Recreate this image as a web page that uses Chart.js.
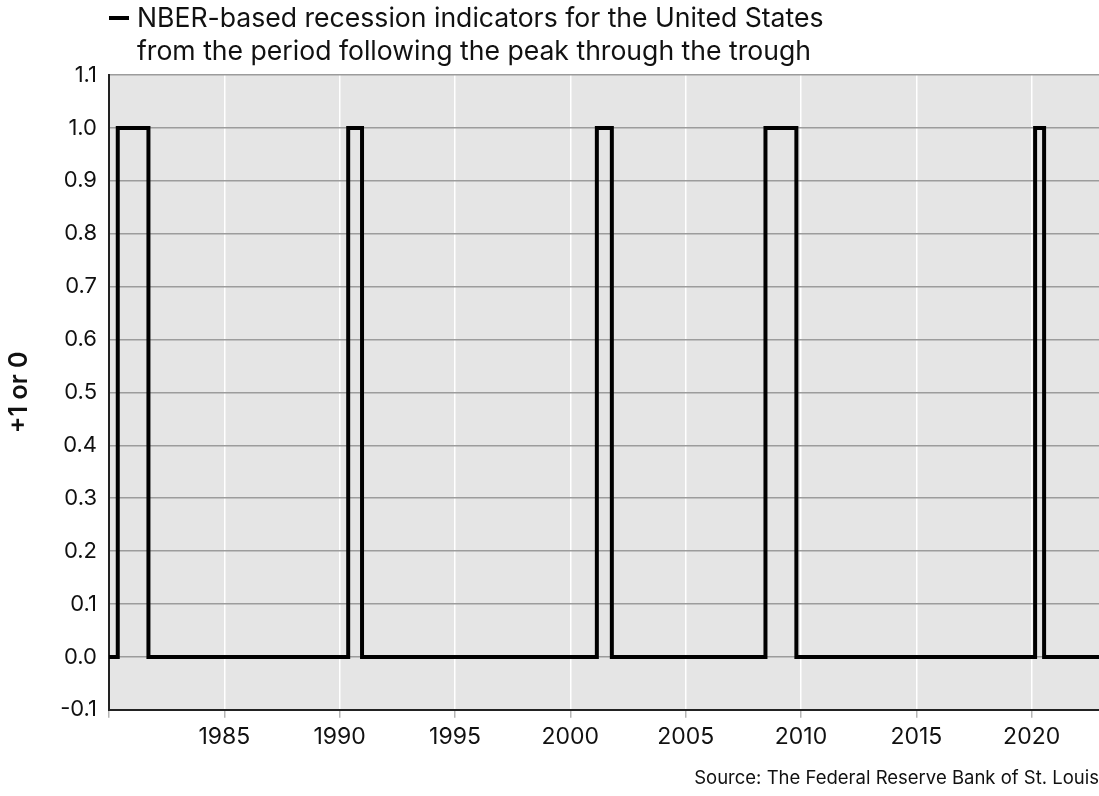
<!DOCTYPE html>
<html>
<head>
<meta charset="utf-8">
<script src="https://cdn.jsdelivr.net/npm/chart.js@4"></script>
<style>
  html, body { margin: 0; padding: 0; background: #fff; }
  #wrap { width: 1099px; height: 796px; position: relative; }
</style>
</head>
<body>
<div id="wrap"><canvas id="chart"></canvas></div>
<script>
// recession spans (decimal years)
const recessionStart = [1980.38, 1990.37, 2001.15, 2008.46, 2020.15];
const recessionEnd   = [1981.71, 1990.97, 2001.80, 2009.80, 2020.54];
const xRange = [1980, 2022.92];
const xTickValues = [1980, 1985, 1990, 1995, 2000, 2005, 2010, 2015, 2020];
const yTickValues = [-0.1, 0, 0.1, 0.2, 0.3, 0.4, 0.5, 0.6, 0.7, 0.8, 0.9, 1.0, 1.1];
const legendLines = [
  'NBER-based recession indicators for the United States',
  'from the period following the peak through the trough',
];
const sourceText = 'Source: The Federal Reserve Bank of St. Louis';

const FONT = 'Inter, "Noto Sans", sans-serif';

// step series: 0 -> 1 at start, 1 -> 0 at end
const points = [{ x: xRange[0], y: 0 }];
recessionStart.forEach((s, i) => {
  const e = recessionEnd[i];
  points.push({ x: s, y: 0 }, { x: s, y: 1 }, { x: e, y: 1 }, { x: e, y: 0 });
});
points.push({ x: xRange[1], y: 0 });

const areaBg = {
  id: 'areaBg',
  beforeDraw(c) {
    const { ctx, chartArea: a } = c;
    ctx.save();
    ctx.fillStyle = '#e5e5e5';
    ctx.fillRect(a.left, a.top, a.right - a.left, a.bottom - a.top);
    ctx.restore();
  },
};

const topLegend = {
  id: 'topLegend',
  afterDraw(c) {
    const ctx = c.ctx;
    ctx.save();
    ctx.strokeStyle = '#000';
    ctx.lineWidth = 4;
    ctx.beginPath();
    ctx.moveTo(109, 18);
    ctx.lineTo(129, 18);
    ctx.stroke();
    ctx.fillStyle = '#111';
    ctx.font = '400 26.6px ' + FONT;
    ctx.textBaseline = 'alphabetic';
    legendLines.forEach((t, i) => ctx.fillText(t, 137, 27 + i * 33));
    ctx.restore();
  },
};

new Chart(document.getElementById('chart').getContext('2d'), {
  type: 'line',
  data: {
    datasets: [{
      label: legendLines.join(' '),
      data: points,
      borderColor: '#000',
      borderWidth: 4,
      borderJoinStyle: 'miter',
      pointRadius: 0,
      tension: 0,
      fill: false,
    }],
  },
  options: {
    responsive: true,
    maintainAspectRatio: false,
    animation: false,
    layout: { padding: { top: 75, right: 0, left: 0, bottom: 0 } },
    plugins: {
      legend: { display: false },
      tooltip: { enabled: false },
      subtitle: {
        display: true,
        text: sourceText,
        position: 'bottom',
        align: 'end',
        color: '#111',
        font: { family: FONT, size: 18.5 },
        padding: { top: 0, bottom: 6 },
      },
    },
    scales: {
      x: {
        type: 'linear',
        min: xRange[0],
        max: xRange[1],
        afterBuildTicks: (s) => { s.ticks = xTickValues.map(v => ({ value: v })); },
        afterFit: (s) => { s.height = 58; },
        grid: {
          color: (c) => (c.tick && c.tick.value === 1980 ? 'rgba(0,0,0,0)' : '#ffffff'),
          tickColor: '#b5b5b5',
          lineWidth: 1.5,
          tickLength: 8,
        },
        border: { color: '#222', width: 2 },
        ticks: {
          color: '#111',
          font: { family: FONT, size: 23 },
          padding: 5,
          maxRotation: 0,
          callback: (v) => (v === 1980 ? '' : String(v)),
        },
      },
      y: {
        min: -0.1,
        max: 1.1,
        afterBuildTicks: (s) => { s.ticks = yTickValues.map(v => ({ value: v })); },
        afterFit: (s) => { s.width = 109; },
        grid: {
          color: '#9c9c9c',
          lineWidth: 1.5,
          drawTicks: false,
        },
        border: { color: '#222', width: 2 },
        ticks: {
          color: '#111',
          font: { family: FONT, size: 22 },
          padding: 12,
          callback: (v) => v.toFixed(1),
        },
        title: {
          display: true,
          text: '+1 or 0',
          color: '#111',
          font: { family: FONT, size: 25, weight: '600' },
          padding: { top: 4, bottom: 0 },
        },
      },
    },
  },
  plugins: [areaBg, topLegend],
});
</script>
</body>
</html>
